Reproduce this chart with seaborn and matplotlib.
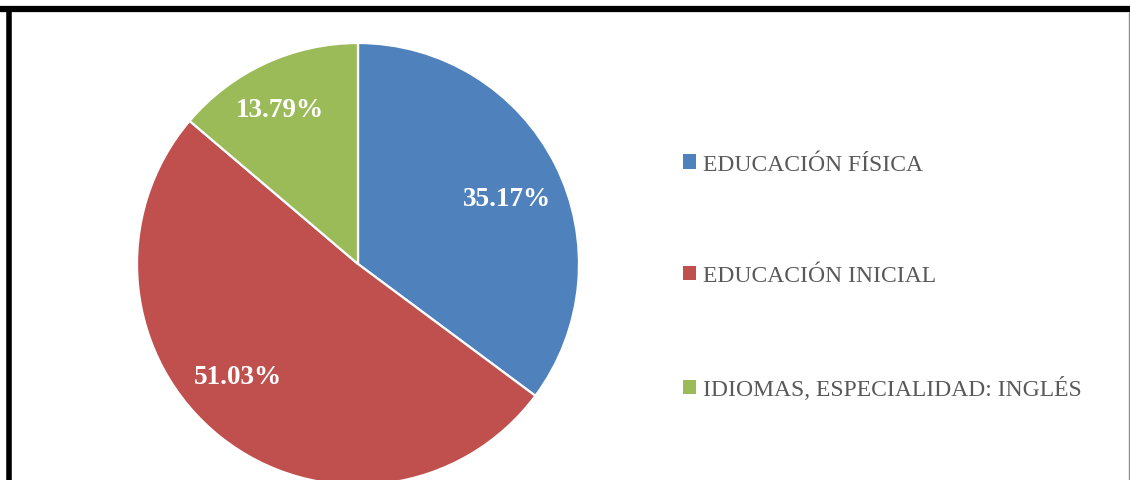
import numpy as np
import matplotlib
matplotlib.use("Agg")
import matplotlib.pyplot as plt
import matplotlib.patches as mpatches
from matplotlib.lines import Line2D
import seaborn as sns

# Share of students per programme (percent)
programas = ["EDUCACIÓN FÍSICA", "EDUCACIÓN INICIAL", "IDIOMAS, ESPECIALIDAD: INGLÉS"]
porcentajes = [35.17, 51.03, 13.79]
colores = ["#4F81BD", "#C0504D", "#9BBB59"]

sns.set_theme(style="white")
plt.rcParams["font.family"] = ["Liberation Serif", "DejaVu Serif"]

W, H = 1130, 481
fig = plt.figure(figsize=(W / 100, H / 100), dpi=100)
fig.patch.set_facecolor("white")

# Pie axes: centre (358, 265) px, radius 221 px
cx, cy, r = 358, 265, 221
ax = fig.add_axes([(cx - r) / W, (H - cy - r) / H, 2 * r / W, 2 * r / H])

palette = sns.color_palette(colores)
wedges, _ = ax.pie(
    porcentajes,
    colors=palette,
    startangle=90,
    counterclock=False,
    radius=1,
    wedgeprops=dict(edgecolor="white", linewidth=1.6),
)
ax.set_xlim(-1, 1)
ax.set_ylim(-1, 1)
ax.set_aspect("equal")
ax.axis("off")
for w in wedges:
    w.set_clip_on(False)

# Percentage labels inside each slice (radial distance, angular nudge in degrees)
dist = [0.736, 0.743, 0.785]
nudge = [-3.1, -8.5, 1.9]
for w, v, d, n in zip(wedges, porcentajes, dist, nudge):
    mid = np.deg2rad((w.theta1 + w.theta2) / 2 + n)
    ax.text(d * np.cos(mid), d * np.sin(mid), f"{v:.2f}%",
            ha="center", va="center", color="white",
            fontsize=19.5, fontweight="bold")

# Legend on the right
handles = [mpatches.Patch(facecolor=c, edgecolor="none") for c in palette]
leg = fig.legend(
    handles, programas,
    loc="center left",
    bbox_to_anchor=(683 / W, (H - 278) / H),
    frameon=False,
    fontsize=17,
    handlelength=0.55,
    handleheight=0.55,
    handletextpad=0.3,
    labelspacing=3.82,
    borderpad=0,
    borderaxespad=0,
)
for t in leg.get_texts():
    t.set_color("#595959")

# Chart frame
fig.add_artist(Line2D([0, 1], [(H - 10) / H] * 2, transform=fig.transFigure,
                      color="black", linewidth=4.5, solid_capstyle="butt"))
fig.add_artist(Line2D([9 / W] * 2, [0, (H - 7) / H], transform=fig.transFigure,
                      color="black", linewidth=4, solid_capstyle="butt"))
fig.add_artist(Line2D([1129 / W] * 2, [0, (H - 13) / H], transform=fig.transFigure,
                      color="#8c8c8c", linewidth=1, solid_capstyle="butt"))

fig.savefig("out.png", dpi=100, facecolor="white")
